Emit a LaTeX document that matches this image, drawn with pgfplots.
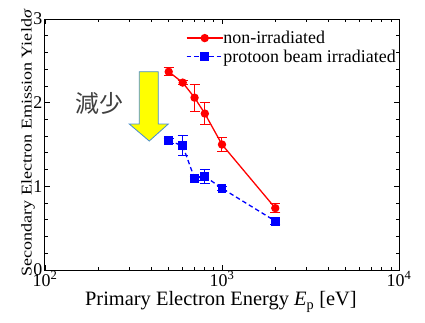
\documentclass[border=0pt]{standalone}
\usepackage{fontspec}
\setmainfont{Liberation Serif}
\newfontfamily\ylabfont[FakeStretch=1.21]{Liberation Serif}
\newfontfamily\cjk{Noto Sans CJK JP}
\usepackage{pgfplots}
\pgfplotsset{compat=1.18}
\definecolor{arrowedge}{RGB}{70,140,210}
\definecolor{yel}{RGB}{255,255,0}
\begin{document}
\begin{tikzpicture}
\begin{axis}[
  scale only axis, width=354bp, height=251bp,
  xmode=log, xmin=100, xmax=10000, ymin=0, ymax=3,
  xtick={100,1000,10000},
  xticklabels={10\textsuperscript{2},10\textsuperscript{3},10\textsuperscript{4}},
  ytick={0,1,2,3}, yticklabels={0,1,2,3},
  minor y tick num=4,
  tick align=inside, tick pos=both,
  major tick length=5bp, minor tick length=3bp,
  axis line style={line width=1pt}, every tick/.style={line width=0.8pt, black},
  ticklabel style={font=\fontsize{18}{18}\selectfont},
  xticklabel style={yshift=2bp},
  yticklabel style={xshift=1bp},
  clip=false,
  xlabel={Primary Electron Energy \textit{E}\textsubscript{p} [eV]},
  xlabel style={at={(rel axis cs:0.497,-0.127)}, anchor=center, font=\fontsize{20.5}{20.5}\selectfont},
  ylabel={Secondary Electron Emission Yield\textit{σ}},
  ylabel style={at={(rel axis cs:-0.048,0.506)}, anchor=center, inner sep=0pt, font=\ylabfont\fontsize{15}{15}\selectfont},
  legend style={at={(rel axis cs:0.398,0.962)}, anchor=north west, draw=none, fill=none,
    font=\fontsize{18}{18}\selectfont, row sep=0pt, inner sep=0pt,
    nodes={inner xsep=0pt, inner ysep=2.4pt}},
  legend cell align=left,
  legend image code/.code={\draw[mark repeat=2,mark phase=2,#1] plot coordinates {(0bp,0bp)(18bp,0bp)(36bp,0bp)};},
]
\coordinate (bbA) at (rel axis cs:-0.127,1.0757);
\coordinate (bbB) at (rel axis cs:1.0734,-0.207);
\addplot[red, line width=1.3pt, mark=*, mark size=3.5bp, mark options={solid},
  error bars/.cd, y dir=both, y explicit,
  error bar style={line width=1pt, draw=red},
  error mark options={rotate=90, mark size=5bp, line width=1pt, draw=red}]
  coordinates {
  (500,2.37) +- (0,0.05)
  (600,2.24) +- (0,0.02)
  (700,2.06) +- (0,0.16)
  (800,1.87) +- (0,0.13)
  (1000,1.50) +- (0,0.085)
  (2000,0.74) +- (0,0.05)
  };
\addlegendentry{non-irradiated}
\addplot[blue, line width=1.3pt, dash pattern=on 4.5bp off 3bp, mark=square*, mark size=3.8bp, mark options={solid},
  error bars/.cd, y dir=both, y explicit,
  error bar style={line width=1pt, draw=blue, solid},
  error mark options={rotate=90, mark size=5bp, line width=1pt, draw=blue}]
  coordinates {
  (500,1.545) +- (0,0.03)
  (600,1.485) +- (0,0.12)
  (700,1.095) +- (0,0.02)
  (800,1.12) +- (0,0.08)
  (1000,0.976) +- (0,0.02)
  (2000,0.585) +- (0,0.04)
  };
\addlegendentry{protoon beam irradiated}
\draw[arrowedge, line width=0.8pt, fill=yel]
  (rel axis cs:0.2664,0.790) -- (rel axis cs:0.3201,0.790) -- (rel axis cs:0.3201,0.5817)
  -- (rel axis cs:0.3483,0.5817) -- (rel axis cs:0.2946,0.5139) -- (rel axis cs:0.2381,0.5817)
  -- (rel axis cs:0.2664,0.5817) -- cycle;
\node[font=\cjk\fontsize{24}{24}\selectfont, text=black!75] at (rel axis cs:0.155,0.665) {減少};
\end{axis}
\pgfresetboundingbox
\path[use as bounding box] (bbA) rectangle (bbB);
\end{tikzpicture}
\end{document}
